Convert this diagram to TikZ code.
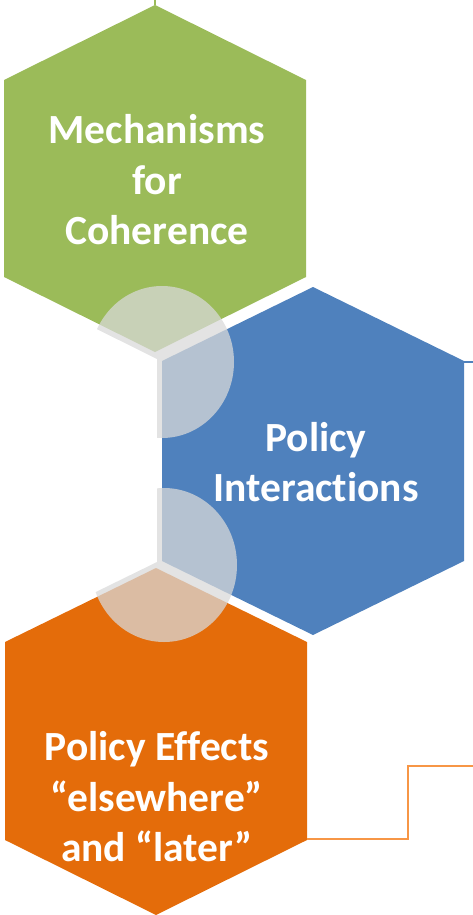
\documentclass[tikz,border=0pt]{standalone}
\usepackage{fontspec}
\setmainfont{Carlito}[Ligatures={NoCommon}]
\definecolor{hgreen}{HTML}{9BBB59}
\definecolor{hblue}{HTML}{4F81BD}
\definecolor{horange}{HTML}{E46C0A}
\definecolor{lorange}{HTML}{F79646}
\definecolor{cgray}{HTML}{D9D9D9}
\tikzset{
  hexfill/.style={fill=#1, draw=none},
  lens/.style={fill=cgray, fill opacity=0.74, draw=none},
  txt/.style={text=white, font=\bfseries\fontsize{41.5}{50.5}\selectfont, align=center, inner sep=0pt},
  conn/.style={line width=2pt, draw=#1}
}
\begin{document}
\begin{tikzpicture}[x=1pt,y=-1pt]
\useasboundingbox (0,0) rectangle (473,915);
% hexagons
\fill[hgreen] (155,5) -- (306,80) -- (306,277) -- (155,352) -- (4,277) -- (4,80) -- cycle;
\fill[hblue] (313,287) -- (464,361) -- (464,561) -- (313,635) -- (162,561) -- (162,361) -- cycle;
\fill[horange] (156,568) -- (307,642) -- (307,840) -- (156,915) -- (5,840) -- (5,642) -- cycle;
% connector anchor points
\coordinate (gtop) at (155,5);
\coordinate (gend) at (155,0);
\coordinate (bright) at (464,362);
\coordinate (bend) at (473,362);
\coordinate (oright) at (307,839);
\coordinate (obend) at (408,839);
\coordinate (obend2) at (408,766);
\coordinate (oend) at (473,766);
\draw[conn=hgreen] (gtop) -- (gend);
\draw[conn=hblue] (bright) -- (bend);
\draw[conn=lorange] (oright) -- (obend) -- (obend2) -- (oend);
% overlap lenses
\begin{scope}
  \clip (0,0) -- (473,0) -- (473,915) -- (157,915) -- (157,359) -- (0,281) -- cycle;
  \fill[lens] (162,362) ellipse [x radius=72, y radius=76];
\end{scope}
\begin{scope}
  \clip (0,915) -- (473,915) -- (473,0) -- (157,0) -- (157,562) -- (0,639) -- cycle;
  \fill[lens] (164,565) ellipse [x radius=73, y radius=77];
\end{scope}
% labels
\node[txt] (t1) at (157,180) {Mechanisms\\for\\Coherence};
\node[txt] (t2) at (316,462) {Policy\\Interactions};
\node[txt] (t3) at (157,797) {Policy Effects\\“elsewhere”\\and “later”};
\end{tikzpicture}
\end{document}
